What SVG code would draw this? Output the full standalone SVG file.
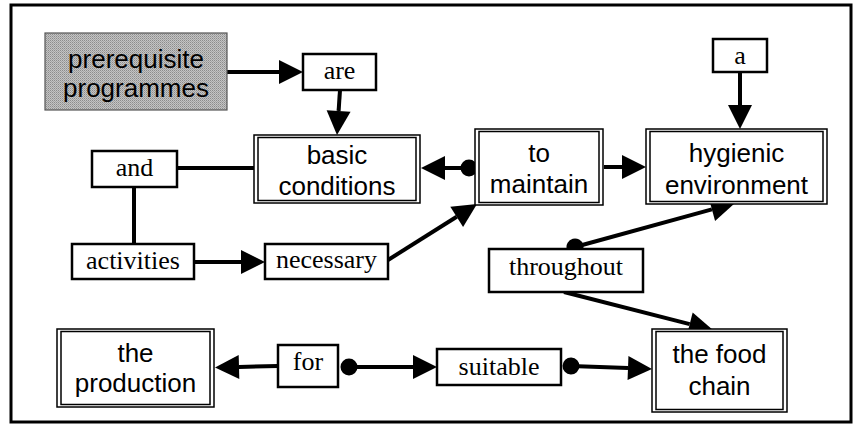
<svg xmlns="http://www.w3.org/2000/svg" width="854" height="425" viewBox="0 0 854 425">
<defs>
<pattern id="dither" width="2" height="2" patternUnits="userSpaceOnUse">
<rect width="2" height="2" fill="#c4c4c4"/>
<rect width="1" height="1" fill="#8c8c8c"/>
<rect x="1" y="1" width="1" height="1" fill="#a4a4a4"/>
</pattern>
<marker id="arrow" markerUnits="userSpaceOnUse" markerWidth="24" markerHeight="24" refX="0" refY="12" orient="auto" overflow="visible">
<path d="M0,0 L24,12 L0,24 z" fill="#000"/>
</marker>
<marker id="dot" markerUnits="userSpaceOnUse" markerWidth="18" markerHeight="18" refX="9" refY="9" orient="auto" overflow="visible">
<circle cx="9" cy="9" r="8.5" fill="#000"/>
</marker>
</defs>
<style>
.frame{fill:#fff;stroke:#000;stroke-width:3}
.simple{fill:#fff;stroke:#000;stroke-width:2.5}
.outer{fill:#fff;stroke:#000;stroke-width:1.5}
.inner{fill:none;stroke:#000;stroke-width:1.5}
.gray{fill:url(#dither);stroke:#555;stroke-width:1.2}
.sans{font-family:"Liberation Sans",Arial,sans-serif;font-size:26px;fill:#000;text-anchor:middle}
.serif{font-family:"Liberation Serif","Times New Roman",serif;font-size:26px;fill:#000;text-anchor:middle}
.conn line,.conn path{stroke:#000;stroke-width:4;fill:none}
.arr{marker-end:url(#arrow)}
.dotstart{marker-start:url(#dot)}
</style>
<rect class="frame" x="11" y="5" width="840" height="417"/>

<g id="connectors" class="conn">
<line x1="227" y1="72" x2="279" y2="72" class="arr"/>
<line x1="340" y1="90" x2="338.6" y2="111" class="arr"/>
<line x1="254" y1="168" x2="177" y2="168"/>
<line x1="134" y1="187" x2="134" y2="244"/>
<line x1="194" y1="262" x2="241" y2="262" class="arr"/>
<line x1="388" y1="260" x2="456.7" y2="216.8" class="arr"/>
<line x1="469" y1="168" x2="445" y2="168" class="arr dotstart"/>
<line x1="604" y1="167" x2="622" y2="167" class="arr"/>
<line x1="740" y1="72" x2="740" y2="105" class="arr"/>
<line x1="575" y1="247" x2="711.9" y2="209.4" class="arr dotstart"/>
<line x1="564" y1="292" x2="689.7" y2="324.1" class="arr"/>
<line x1="571" y1="366" x2="628" y2="368.1" class="arr dotstart"/>
<line x1="278" y1="366" x2="239" y2="367" class="arr"/>
<line x1="349" y1="367" x2="413" y2="367" class="arr dotstart"/>
</g>

<g id="prerequisite">
<rect class="gray" x="45" y="33" width="182" height="77"/>
<text class="sans" x="136" y="68">prerequisite</text>
<text class="sans" x="136" y="97">programmes</text>
</g>

<g id="are">
<rect class="simple" x="303" y="54" width="73" height="36"/>
<text class="serif" x="339.5" y="79">are</text>
</g>

<g id="basic-conditions">
<rect class="outer" x="254" y="135" width="166" height="68"/>
<rect class="inner" x="258" y="137.5" width="158" height="63"/>
<text class="sans" x="337" y="164">basic</text>
<text class="sans" x="337" y="195">conditions</text>
</g>

<g id="and">
<rect class="simple" x="92" y="151" width="85" height="36"/>
<text class="serif" x="134.5" y="176">and</text>
</g>

<g id="activities">
<rect class="simple" x="72" y="244" width="122" height="35"/>
<text class="serif" x="133" y="269">activities</text>
</g>

<g id="necessary">
<rect class="simple" x="265" y="244" width="123" height="35"/>
<text class="serif" x="326.5" y="268">necessary</text>
</g>

<g id="to-maintain">
<rect class="outer" x="475" y="129" width="128" height="76"/>
<rect class="inner" x="479" y="131.5" width="120" height="71"/>
<text class="sans" x="539" y="162">to</text>
<text class="sans" x="539" y="193">maintain</text>
</g>

<g id="a">
<rect class="simple" x="713" y="39" width="54" height="33"/>
<text class="serif" x="740" y="64">a</text>
</g>

<g id="hygienic-environment">
<rect class="outer" x="646" y="129" width="181" height="75"/>
<rect class="inner" x="650" y="131.5" width="173" height="70"/>
<text class="sans" x="736.5" y="162">hygienic</text>
<text class="sans" x="736.5" y="194">environment</text>
</g>

<g id="throughout">
<rect class="simple" x="489" y="249" width="154" height="43"/>
<text class="serif" x="566" y="275">throughout</text>
</g>

<g id="the-production">
<rect class="outer" x="57" y="329" width="157" height="78"/>
<rect class="inner" x="61" y="331.5" width="149" height="73"/>
<text class="sans" x="135.5" y="362">the</text>
<text class="sans" x="135.5" y="392">production</text>
</g>

<g id="for">
<rect class="simple" x="278" y="345" width="60" height="42"/>
<text class="serif" x="308" y="370">for</text>
</g>

<g id="suitable">
<rect class="simple" x="437" y="349" width="124" height="36"/>
<text class="serif" x="499" y="375">suitable</text>
</g>

<g id="the-food-chain">
<rect class="outer" x="652" y="329" width="135" height="83"/>
<rect class="inner" x="656" y="331.5" width="127" height="78"/>
<text class="sans" x="719.5" y="363">the food</text>
<text class="sans" x="719.5" y="395">chain</text>
</g>
</svg>
